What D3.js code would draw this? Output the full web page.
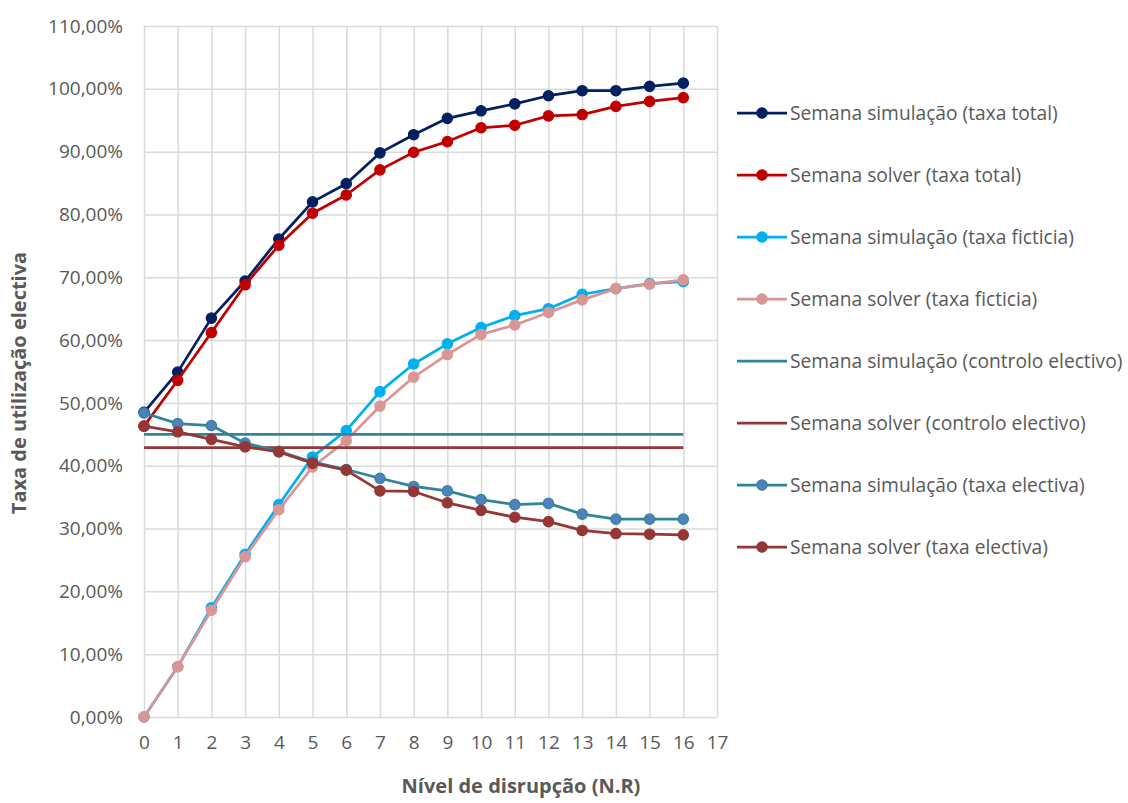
<!DOCTYPE html>
<html>
<head>
<meta charset="utf-8">
<script src="https://cdn.jsdelivr.net/npm/d3@7"></script>
<style>
  body { margin: 0; background: #fff; }
  svg { display: block; }
  text { font-family: "Open Sans", "Noto Sans", sans-serif; fill: #595959; }
</style>
</head>
<body>
<svg id="chart" width="1128" height="803"></svg>
<script>
// Disruption levels (x) and axis ticks
const levels = [0,1,2,3,4,5,6,7,8,9,10,11,12,13,14,15,16];
const xTicks = [0,1,2,3,4,5,6,7,8,9,10,11,12,13,14,15,16,17];
const yTicks = [0,10,20,30,40,50,60,70,80,90,100,110];

// Utilisation rates (%)
const simTotal = [48.5, 54.9, 63.5, 69.4, 76.1, 82.0, 84.9, 89.8, 92.7, 95.3, 96.5, 97.6, 98.9, 99.7, 99.7, 100.4, 100.9];
const solTotal = [46.3, 53.6, 61.2, 68.8, 75.1, 80.2, 83.1, 87.1, 89.9, 91.6, 93.8, 94.2, 95.7, 95.9, 97.2, 98.0, 98.6];
const simFict  = [0, 8.0, 17.4, 25.9, 33.8, 41.4, 45.6, 51.8, 56.2, 59.4, 62.0, 63.9, 65.0, 67.3, 68.2, 69.0, 69.3];
const solFict  = [0, 8.0, 17.0, 25.5, 33.0, 39.8, 44.0, 49.5, 54.1, 57.7, 60.9, 62.4, 64.4, 66.4, 68.2, 68.9, 69.6];
const simCtrl  = [45.0, 45.0, 45.0, 45.0, 45.0, 45.0, 45.0, 45.0, 45.0, 45.0, 45.0, 45.0, 45.0, 45.0, 45.0, 45.0, 45.0];
const solCtrl  = [42.9, 42.9, 42.9, 42.9, 42.9, 42.9, 42.9, 42.9, 42.9, 42.9, 42.9, 42.9, 42.9, 42.9, 42.9, 42.9, 42.9];
const simElec  = [48.4, 46.7, 46.4, 43.6, 42.3, 40.6, 39.4, 38.0, 36.7, 36.0, 34.6, 33.8, 34.0, 32.3, 31.5, 31.5, 31.5];
const solElec  = [46.3, 45.4, 44.2, 43.0, 42.2, 40.4, 39.3, 36.0, 35.9, 34.1, 32.9, 31.8, 31.1, 29.7, 29.2, 29.1, 29.0];

const seriesNames = [
  "Semana simulação (taxa total)",
  "Semana solver (taxa total)",
  "Semana simulação (taxa ficticia)",
  "Semana solver (taxa ficticia)",
  "Semana simulação (controlo electivo)",
  "Semana solver (controlo electivo)",
  "Semana simulação (taxa electiva)",
  "Semana solver (taxa electiva)"
];

const series = [
  { name: seriesNames[0], values: simTotal, line: "#002060", fill: "#002060", stroke: "#002060", marker: true },
  { name: seriesNames[1], values: solTotal, line: "#C00000", fill: "#C00000", stroke: "#C00000", marker: true },
  { name: seriesNames[2], values: simFict,  line: "#00B0F0", fill: "#00B0F0", stroke: "#00B0F0", marker: true },
  { name: seriesNames[3], values: solFict,  line: "#DA9694", fill: "#DA9694", stroke: "#DA9694", marker: true },
  { name: seriesNames[4], values: simCtrl,  line: "#31849B", marker: false },
  { name: seriesNames[5], values: solCtrl,  line: "#953735", marker: false },
  { name: seriesNames[6], values: simElec,  line: "#31849B", fill: "#4F81BD", stroke: "#31849B", marker: true },
  { name: seriesNames[7], values: solElec,  line: "#953735", fill: "#953735", stroke: "#953735", marker: true }
];

const svg = d3.select("#chart");
const plot = { left: 144, right: 717, top: 26, bottom: 717 };

const x = d3.scaleLinear().domain([0, 17]).range([plot.left, plot.right]);
const y = d3.scaleLinear().domain([0, 110]).range([plot.bottom, plot.top]);

const fmt = v => d3.format(".2f")(v).replace(".", ",") + "%";

// Gridlines
const grid = svg.append("g");
grid.append("g")
  .attr("transform", `translate(0,${plot.bottom})`)
  .call(d3.axisBottom(x).tickValues(xTicks).tickSize(-(plot.bottom - plot.top)).tickFormat(""))
  .call(g => g.select(".domain").remove())
  .call(g => g.selectAll("line").attr("stroke", "#D9D9D9").attr("stroke-width", 1.5));
grid.append("g")
  .attr("transform", `translate(${plot.left},0)`)
  .call(d3.axisLeft(y).tickValues(yTicks).tickSize(-(plot.right - plot.left)).tickFormat(""))
  .call(g => g.select(".domain").remove())
  .call(g => g.selectAll("line").attr("stroke", "#D9D9D9").attr("stroke-width", 1.5));

// Axis labels
svg.append("g")
  .attr("transform", `translate(${plot.left},0)`)
  .call(d3.axisLeft(y).tickValues(yTicks).tickSize(0).tickPadding(21).tickFormat(fmt))
  .call(g => g.select(".domain").remove())
  .call(g => g.selectAll("text").attr("font-size", 19).attr("fill", "#595959")
    .style("font-family", "'Open Sans', sans-serif"));

svg.append("g")
  .attr("transform", `translate(0,${plot.bottom})`)
  .call(d3.axisBottom(x).tickValues(xTicks).tickSize(0).tickPadding(19).tickFormat(d3.format("d")))
  .call(g => g.select(".domain").remove())
  .call(g => g.selectAll("text").attr("font-size", 19).attr("fill", "#595959")
    .style("font-family", "'Open Sans', sans-serif"));

// Axis titles
svg.append("text")
  .attr("transform", `translate(26,383) rotate(-90)`)
  .attr("text-anchor", "middle")
  .attr("font-size", 20)
  .attr("font-weight", "bold")
  .text("Taxa de utilização electiva");

svg.append("text")
  .attr("x", 521).attr("y", 793)
  .attr("text-anchor", "middle")
  .attr("font-size", 20)
  .attr("font-weight", "bold")
  .text("Nível de disrupção (N.R)");

// Series
const lineGen = d3.line().x((d, i) => x(levels[i])).y(d => y(d));
const marks = svg.append("g");
series.forEach(s => {
  const g = marks.append("g");
  g.append("path")
    .datum(s.values)
    .attr("d", lineGen)
    .attr("fill", "none")
    .attr("stroke", s.line)
    .attr("stroke-width", 2.75)
    .attr("stroke-linejoin", "round");
  if (s.marker) {
    g.selectAll("circle")
      .data(s.values)
      .join("circle")
      .attr("cx", (d, i) => x(levels[i]))
      .attr("cy", d => y(d))
      .attr("r", 5.2)
      .attr("fill", s.fill)
      .attr("stroke", s.stroke)
      .attr("stroke-width", 1.2);
  }
});

// Legend
const legend = svg.append("g");
series.forEach((s, i) => {
  const ly = 113 + i * 62;
  const row = legend.append("g").attr("transform", `translate(0,${ly})`);
  row.append("line")
    .attr("x1", 737).attr("x2", 787).attr("y1", 0).attr("y2", 0)
    .attr("stroke", s.line).attr("stroke-width", 2.75);
  if (s.marker) {
    row.append("circle")
      .attr("cx", 762).attr("cy", 0).attr("r", 5.2)
      .attr("fill", s.fill).attr("stroke", s.stroke).attr("stroke-width", 1.2);
  }
  row.append("text")
    .attr("x", 790).attr("y", 0).attr("dy", "0.35em")
    .attr("font-size", 19.2)
    .text(s.name);
});
</script>
</body>
</html>
